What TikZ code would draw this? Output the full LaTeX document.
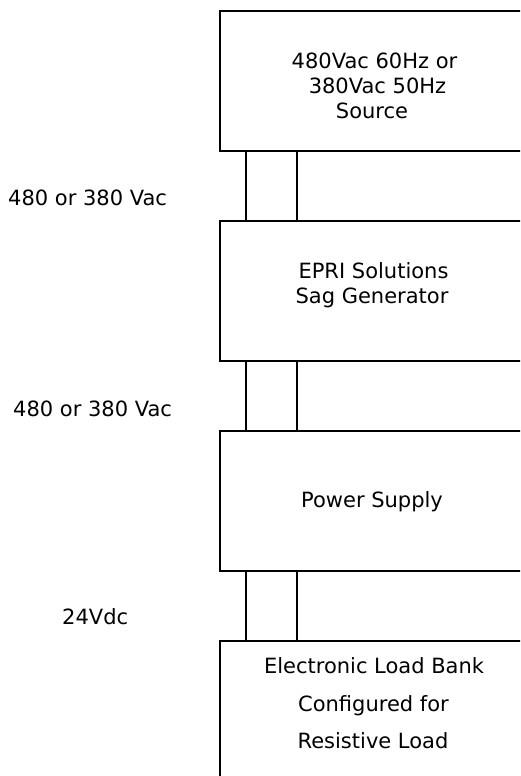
\documentclass[tikz,border=0pt]{standalone}
\usepackage{fontspec}
\setmainfont{DejaVu Sans}
\begin{document}
\begin{tikzpicture}[x=1pt,y=-1pt,
  box/.style={draw, line width=1.4pt, minimum width=306pt, minimum height=140pt, inner sep=0pt, outer sep=0pt},
  wire/.style={line width=1.8pt},
  txt/.style={anchor=base, inner sep=0pt, font=\fontsize{21}{25}\selectfont},
  lbl/.style={anchor=base west, inner sep=0pt, font=\fontsize{21}{25}\selectfont}]
\useasboundingbox (0,0) rectangle (520,776);
\clip (0,0) rectangle (520,776);
\fill[white] (0,0) rectangle (520,776);
% boxes
\node[box] (b1) at (373,81) {};
\node[box] (b2) at (373,291) {};
\node[box] (b3) at (373,501) {};
\node[box] (b4) at (373,711) {};
% wires
\draw[wire] ([xshift=26pt]b1.south west) -- ([xshift=26pt]b2.north west);
\draw[wire] ([xshift=77pt]b1.south west) -- ([xshift=77pt]b2.north west);
\draw[wire] ([xshift=26pt]b2.south west) -- ([xshift=26pt]b3.north west);
\draw[wire] ([xshift=77pt]b2.south west) -- ([xshift=77pt]b3.north west);
\draw[wire] ([xshift=26pt]b3.south west) -- ([xshift=26pt]b4.north west);
\draw[wire] ([xshift=77pt]b3.south west) -- ([xshift=77pt]b4.north west);
% box texts
\node[txt] (t1a) at (374.5,68) {480Vac 60Hz or};
\node[txt] (t1b) at (377.5,93) {380Vac 50Hz};
\node[txt] (t1c) at (372,118) {Source};
\node[txt] (t2a) at (373.5,278) {EPRI Solutions};
\node[txt] (t2b) at (372,303) {Sag Generator};
\node[txt] (t3a) at (372,507) {Power Supply};
\node[txt] (t4a) at (374,673) {Electronic Load Bank};
\node[txt] (t4b) at (373.5,711) {Configured for};
\node[txt] (t4c) at (373,748) {Resistive Load};
% side labels
\node[lbl] (l1) at (8,205) {480 or 380 Vac};
\node[lbl] (l2) at (13,416) {480 or 380 Vac};
\node[lbl] (l3) at (62,624) {24Vdc};
\end{tikzpicture}
\end{document}
